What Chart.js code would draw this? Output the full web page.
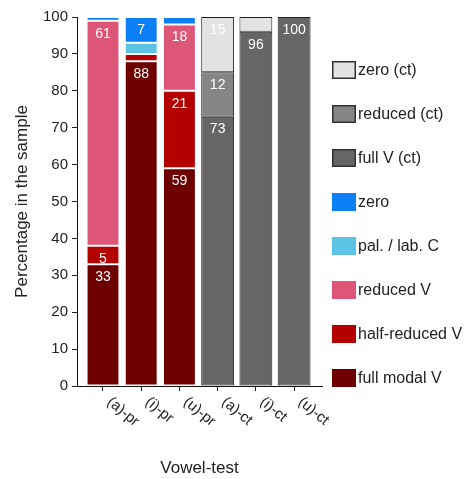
<!DOCTYPE html>
<html>
<head>
<meta charset="utf-8">
<script src="https://cdn.jsdelivr.net/npm/chart.js@4.4.1/dist/chart.umd.min.js"></script>
<style>
  html, body { margin: 0; padding: 0; background: #fff; }
  canvas { display: block; }
</style>
</head>
<body>
<canvas id="c" width="465" height="479"></canvas>
<script>
// Categories along the x axis
const categories = ['(a)-pr', '(i)-pr', '(u)-pr', '(a)-ct', '(i)-ct', '(u)-ct'];

// Percentages per category (null = no segment)
const fullModalV   = [33, 88, 59, null, null, null];
const halfReducedV = [5, 2, 21, null, null, null];
const reducedV     = [61, null, 18, null, null, null];
const palLabC      = [null, 3, null, null, null, null];
const zeroPr       = [1, 7, 2, null, null, null];
const fullVct      = [null, null, null, 73, 96, 100];
const reducedCt    = [null, null, null, 12, null, null];
const zeroCt       = [null, null, null, 15, 4, null];

// Series names, bottom of the stack first
const seriesNames = ['full modal V', 'half-reduced V', 'reduced V', 'pal. / lab. C', 'zero',
                     'full V (ct)', 'reduced (ct)', 'zero (ct)'];

const FONT = '"Liberation Sans", Arial, sans-serif';
Chart.defaults.font.family = FONT;
Chart.defaults.color = '#222';

function series(name, values, fill, edge) {
  return {
    label: name,
    data: values.map((v, i) => ({ x: i, y: v })),
    backgroundColor: fill,
    borderColor: edge,
    borderWidth: 1,
    borderSkipped: false,
    barPercentage: 0.86,
    categoryPercentage: 1
  };
}

const datasets = [
  series(seriesNames[0], fullModalV, '#6e0000', '#ffffff'),
  series(seriesNames[1], halfReducedV, '#b50000', '#ffffff'),
  series(seriesNames[2], reducedV, '#de5677', '#ffffff'),
  series(seriesNames[3], palLabC, '#5cc3e4', '#ffffff'),
  series(seriesNames[4], zeroPr, '#0b7ff5', '#ffffff'),
  series(seriesNames[5], fullVct, '#666666', '#1e1e1e'),
  series(seriesNames[6], reducedCt, '#858585', '#1e1e1e'),
  series(seriesNames[7], zeroCt, '#e2e2e2', '#1e1e1e')
];

// White value labels near the top of each sizeable segment
const segmentLabels = {
  id: 'segmentLabels',
  afterDatasetsDraw(chart) {
    const ctx = chart.ctx;
    ctx.save();
    ctx.font = '14px ' + FONT;
    ctx.fillStyle = '#ffffff';
    ctx.textAlign = 'center';
    ctx.textBaseline = 'middle';
    chart.data.datasets.forEach((ds, di) => {
      const meta = chart.getDatasetMeta(di);
      meta.data.forEach((bar, i) => {
        const v = ds.data[i].y;
        if (v == null || v < 5) return;
        ctx.fillText(String(v), bar.x, bar.y + 13);
      });
    });
    ctx.restore();
  }
};

// Slanted category names under the x axis
const slantedTicks = {
  id: 'slantedTicks',
  afterDraw(chart) {
    const ctx = chart.ctx;
    const xs = chart.scales.x;
    ctx.save();
    ctx.font = '15px ' + FONT;
    ctx.fillStyle = '#222';
    ctx.textAlign = 'left';
    ctx.textBaseline = 'middle';
    categories.forEach((name, i) => {
      const px = xs.getPixelForValue(i);
      ctx.save();
      ctx.translate(px + 6, xs.top + 14);
      ctx.rotate(40 * Math.PI / 180);
      ctx.fillText(name, 0, 0);
      ctx.restore();
    });
    ctx.restore();
  }
};

// Legend on the right, top of the stack listed first
const sideLegend = {
  id: 'sideLegend',
  afterDraw(chart) {
    const ctx = chart.ctx;
    const items = chart.data.datasets.slice().reverse();
    const x0 = chart.chartArea.right + 10;
    ctx.save();
    ctx.font = '16px ' + FONT;
    ctx.textAlign = 'left';
    ctx.textBaseline = 'middle';
    items.forEach((ds, k) => {
      const cy = 70 + 44 * k;
      ctx.fillStyle = ds.backgroundColor;
      ctx.fillRect(x0, cy - 9, 24, 18);
      if (ds.borderColor !== '#ffffff') {
        ctx.strokeStyle = '#333';
        ctx.lineWidth = 1.5;
        ctx.strokeRect(x0 + 0.75, cy - 8.25, 22.5, 16.5);
      }
      ctx.fillStyle = '#222';
      ctx.fillText(ds.label, x0 + 26, cy + 1);
    });
    ctx.restore();
  }
};

new Chart(document.getElementById('c'), {
  type: 'bar',
  data: { datasets },
  plugins: [segmentLabels, slantedTicks, sideLegend],
  options: {
    responsive: false,
    animation: false,
    layout: { padding: { left: 0, right: 143, top: 17, bottom: 0 } },
    plugins: { legend: { display: false }, tooltip: { enabled: false } },
    scales: {
      x: {
        type: 'linear',
        stacked: true,
        offset: false,
        min: -0.68,
        max: 5.73,
        ticks: { display: false, stepSize: 1, includeBounds: false },
        grid: { offset: false, drawOnChartArea: false, drawTicks: true, tickLength: 5, color: '#222' },
        border: { color: '#111', width: 1 },
        title: { display: true, text: 'Vowel-test', font: { size: 17 }, color: '#222', padding: { top: 0, bottom: 0 } },
        afterFit(s) { s.height = 93; }
      },
      y: {
        stacked: true,
        min: 0,
        max: 100,
        ticks: { stepSize: 10, font: { size: 15 }, color: '#222', padding: 4 },
        grid: { drawOnChartArea: false, drawTicks: true, tickLength: 5, color: '#222' },
        border: { color: '#111', width: 1 },
        title: { display: true, text: 'Percentage in the sample', font: { size: 17 }, color: '#222', padding: { top: 12, bottom: 0 } },
        afterFit(s) { s.width = 77; }
      }
    }
  }
});
</script>
</body>
</html>
